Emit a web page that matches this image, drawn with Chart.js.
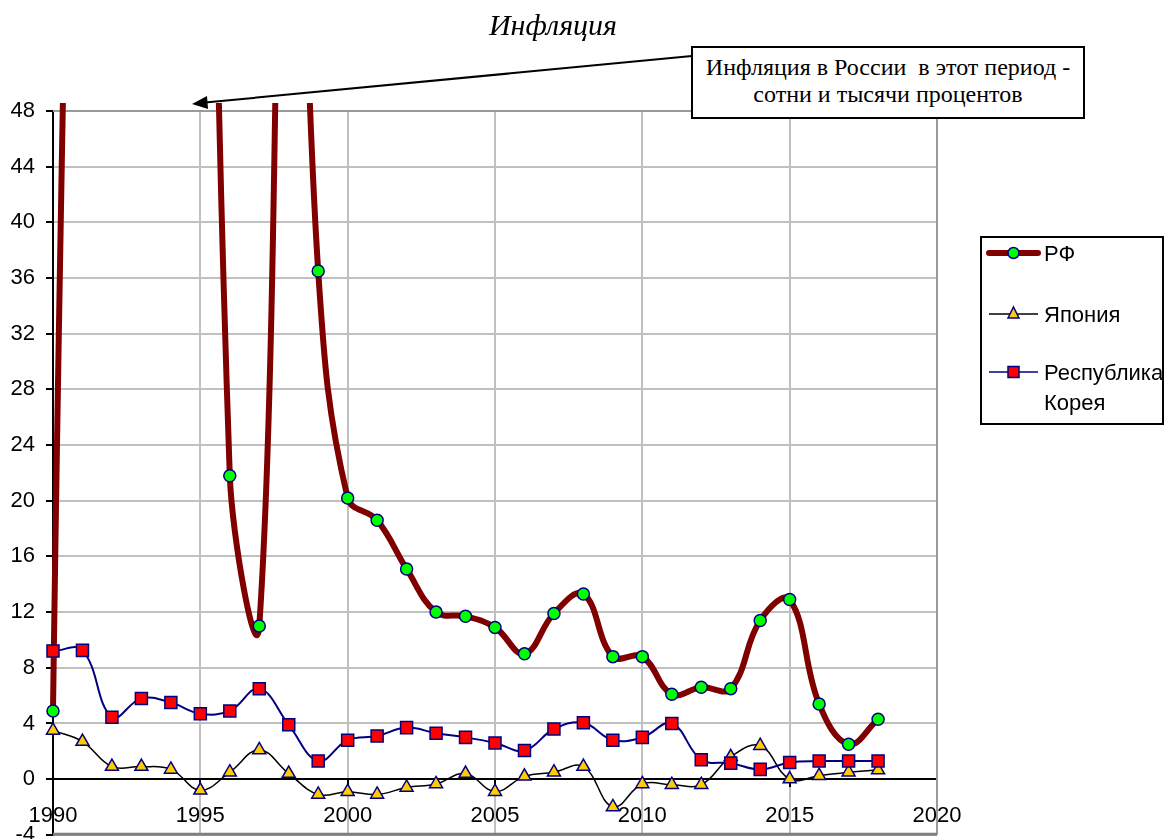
<!DOCTYPE html>
<html lang="ru">
<head>
  <meta charset="UTF-8">
  <title>Инфляция</title>
  <script src="https://cdn.jsdelivr.net/npm/chart.js"></script>
  <style>
    body {
      margin: 0;
      background: #fff;
      font-family: "Liberation Sans", Arial, sans-serif;
    }
    #wrap {
      position: relative;
      width: 1165px;
      height: 839px;
      overflow: hidden;
    }
    #chart {
      position: absolute;
      left: 0;
      top: 0;
    }
    #title {
      position: absolute;
      left: 453px;
      width: 200px;
      top: 8px;
      text-align: center;
      font: italic 30px "Liberation Serif", serif;
    }
    #note {
      position: absolute;
      left: 691px;
      top: 46px;
      width: 394px;
      height: 73px;
      box-sizing: border-box;
      border: 2px solid #000;
      background: #fff;
      padding-top: 6px;
      text-align: center;
      font: 24px "Liberation Serif", serif;
      line-height: 27px;
    }
    #overlay {
      position: absolute;
      left: 0;
      top: 0;
    }
  </style>
</head>
<body>
  <div id="wrap">
    <!-- холст выше окна: нижние 20px уходят под подписи оси X -->
    <canvas id="chart" width="1165" height="859"></canvas>
    <div id="title">Инфляция</div>
    <svg id="overlay" width="1165" height="839">
      <!-- стрелка к пропавшему верху графика -->
      <line x1="692" y1="56" x2="205" y2="102.5" stroke="#000" stroke-width="2"/>
      <polygon points="192,104 207,96 208,109" fill="#000"/>
      <!-- легенда -->
      <rect x="981" y="237" width="182" height="187" fill="#fff" stroke="#000" stroke-width="2"/>
      <line x1="989" y1="253" x2="1038" y2="253" stroke="#800000" stroke-width="6" stroke-linecap="round"/>
      <circle cx="1013.5" cy="253" r="5.5" fill="#00ff00" stroke="#000080" stroke-width="1.5"/>
      <text x="1044" y="261" font-family="Liberation Sans" font-size="22">РФ</text>
      <line x1="989" y1="314" x2="1038" y2="314" stroke="#000" stroke-width="1.5"/>
      <polygon points="1013.5,307 1019,318 1008,318" fill="#ffcc00" stroke="#000080" stroke-width="1.5"/>
      <text x="1044" y="322" font-family="Liberation Sans" font-size="22">Япония</text>
      <line x1="989" y1="372" x2="1038" y2="372" stroke="#000080" stroke-width="1.5"/>
      <rect x="1008" y="366.5" width="11" height="11" fill="#ff0000" stroke="#000080" stroke-width="1.5"/>
      <text x="1044" y="380" font-family="Liberation Sans" font-size="22">Республика</text>
      <text x="1044" y="410" font-family="Liberation Sans" font-size="22">Корея</text>
    </svg>
    <div id="note">Инфляция в России&nbsp; в этот период -<br>сотни и тысячи процентов</div>
  </div>

  <script>
    const years = [1990, 1991, 1992, 1993, 1994, 1995, 1996, 1997, 1998, 1999,
                   2000, 2001, 2002, 2003, 2004, 2005, 2006, 2007, 2008, 2009,
                   2010, 2011, 2012, 2013, 2014, 2015, 2016, 2017, 2018];

    // РФ: 1991-1995 и 1998 уходят за верх шкалы
    const rf = [4.9, 160.4, 2508.8, 839.9, 215.1, 131.3, 21.8, 11.0, 84.4, 36.5,
                20.2, 18.6, 15.1, 12.0, 11.7, 10.9, 9.0, 11.9, 13.3, 8.8,
                8.8, 6.1, 6.6, 6.5, 11.4, 12.9, 5.4, 2.5, 4.3];

    const japan = [3.5, 2.7, 0.9, 0.9, 0.7, -0.8, 0.5, 2.1, 0.4, -1.1,
                   -0.9, -1.1, -0.6, -0.35, 0.4, -0.9, 0.2, 0.5, 0.9, -2.0,
                   -0.35, -0.4, -0.4, 1.6, 2.4, 0.0, 0.25, 0.5, 0.65];

    const korea = [9.2, 9.25, 4.45, 5.8, 5.5, 4.7, 4.9, 6.5, 3.9, 1.3,
                   2.8, 3.1, 3.7, 3.3, 3.0, 2.6, 2.05, 3.6, 4.05, 2.8,
                   3.0, 4.0, 1.4, 1.15, 0.7, 1.2, 1.3, 1.3, 1.3];

    const xTicks = { min: 1990, max: 2020, step: 5 };
    const yTicks = { min: -4, max: 48, step: 4 };

    const toPoints = vals => years.map((x, i) => ({ x: x, y: vals[i] }));

    // рамка области построения (верх, право, низ)
    const frame = {
      id: 'frame',
      beforeDatasetsDraw(chart) {
        const a = chart.chartArea, ctx = chart.ctx;
        ctx.save();
        ctx.strokeStyle = '#999';
        ctx.lineWidth = 2;
        ctx.beginPath();
        ctx.moveTo(a.left, a.top);
        ctx.lineTo(a.right, a.top);
        ctx.lineTo(a.right, a.bottom);
        ctx.stroke();
        ctx.strokeStyle = '#808080';
        ctx.lineWidth = 3;
        ctx.beginPath();
        ctx.moveTo(a.left, a.bottom - 0.5);
        ctx.lineTo(a.right, a.bottom - 0.5);
        ctx.stroke();
        ctx.restore();
      }
    };

    Chart.defaults.font.family = '"Liberation Sans", Arial, sans-serif';
    Chart.defaults.color = '#000';

    new Chart(document.getElementById('chart'), {
      type: 'line',
      data: {
        datasets: [
          {
            label: 'РФ',
            data: toPoints(rf),
            borderColor: '#800000',
            borderWidth: 6,
            tension: 0.4,
            pointStyle: 'circle',
            pointRadius: 6,
            pointBackgroundColor: '#00ff00',
            pointBorderColor: '#000080',
            pointBorderWidth: 1.5,
            clip: { left: 10, top: 8, right: 10, bottom: 10 },
            order: 3
          },
          {
            label: 'Япония',
            data: toPoints(japan),
            borderColor: '#000',
            borderWidth: 1.5,
            tension: 0.4,
            pointStyle: 'triangle',
            pointRadius: 7.5,
            pointBackgroundColor: '#ffcc00',
            pointBorderColor: '#000080',
            pointBorderWidth: 1.5,
            clip: 12,
            order: 2
          },
          {
            label: 'Республика Корея',
            data: toPoints(korea),
            borderColor: '#000080',
            borderWidth: 2,
            tension: 0.4,
            pointStyle: 'rect',
            pointRadius: 8.5,
            pointBackgroundColor: '#ff0000',
            pointBorderColor: '#000080',
            pointBorderWidth: 1.5,
            clip: 12,
            order: 1
          }
        ]
      },
      options: {
        responsive: false,
        animation: false,
        devicePixelRatio: 1,
        layout: { padding: { top: 111, right: 228, bottom: 5, left: 0 } },
        plugins: {
          legend: { display: false },
          tooltip: { enabled: false }
        },
        scales: {
          x: {
            type: 'linear',
            position: { y: 0 },
            min: xTicks.min,
            max: xTicks.max,
            ticks: {
              stepSize: xTicks.step,
              font: { size: 22 },
              color: '#000',
              padding: 17,
              maxRotation: 0,
              callback: v => String(v)
            },
            grid: { color: '#c0c0c0', lineWidth: 2, tickColor: '#000', tickLength: 7 },
            border: { color: '#000', width: 2 }
          },
          y: {
            position: 'left',
            min: yTicks.min,
            max: yTicks.max,
            ticks: {
              stepSize: yTicks.step,
              font: { size: 22 },
              color: '#000',
              padding: 11,
              callback: v => String(v)
            },
            grid: { color: '#c0c0c0', lineWidth: 2, tickColor: '#000', tickLength: 7 },
            border: { color: '#000', width: 2 },
            afterFit(scale) { scale.width = 53; }
          }
        }
      },
      plugins: [frame]
    });
  </script>
</body>
</html>
